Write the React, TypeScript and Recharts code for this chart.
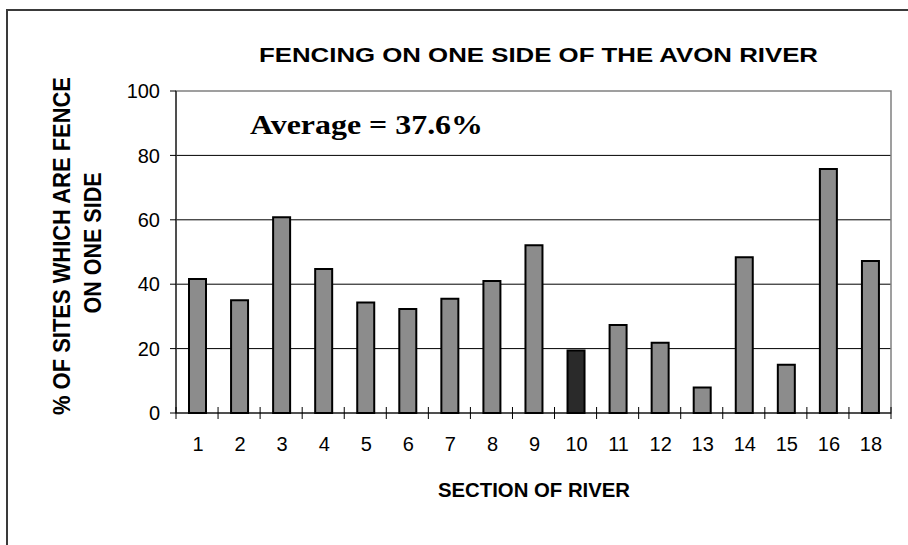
import { BarChart, Bar, XAxis, YAxis, CartesianGrid, ReferenceArea, Cell } from 'recharts'

const sections = ['1', '2', '3', '4', '5', '6', '7', '8', '9', '10', '11', '12', '13', '14', '15', '16', '18']
const fencedPct = [41.6, 35, 60.8, 44.7, 34.3, 32.3, 35.5, 41, 52.1, 19.4, 27.3, 21.8, 7.9, 48.4, 15, 75.8, 47.2]
const highlightSection = '10'
const yTicks = [0, 20, 40, 60, 80, 100]
const gridValues = [20, 40, 60, 80]

const data = sections.map((s, i) => ({ section: s, pct: fencedPct[i] }))

const fontSans = '"Liberation Sans", Arial, sans-serif'
const fontSerif = '"Liberation Serif", "Times New Roman", serif'

function SectionTick(props: any) {
  const { x, y, payload, width, visibleTicksCount, index } = props
  const step = width / visibleTicksCount
  const last = index === visibleTicksCount - 1
  return (
    <g>
      <line x1={x - step / 2} x2={x - step / 2} y1={y - 6} y2={y + 6} stroke="#000" />
      {last && <line x1={x + step / 2} x2={x + step / 2} y1={y - 6} y2={y + 6} stroke="#000" />}
      <text x={x + 1} y={y + 38} textAnchor="middle" fontSize={20} fill="#000" fontFamily={fontSans}>
        {payload.value}
      </text>
    </g>
  )
}

export default function App() {
  return (
    <div style={{ position: 'absolute', left: 0, top: 0, width: 908, height: 545, overflow: 'hidden', background: '#fff' }}>
      <div
        style={{
          position: 'absolute',
          left: 6,
          top: 9,
          width: 920,
          height: 560,
          border: '2px solid #3a3a3a',
          boxSizing: 'border-box',
        }}
      />
      <div style={{ position: 'absolute', left: 0, top: 0 }}>
        <BarChart
          width={908}
          height={545}
          data={data}
          margin={{ top: 91, right: 17, bottom: 92, left: 116 }}
          barCategoryGap={0}
        >
          <CartesianGrid horizontal vertical={false} horizontalValues={gridValues} stroke="#000" strokeWidth={1} />
          <ReferenceArea y1={0} y2={100} stroke="#808080" strokeWidth={1.5} fill="none" fillOpacity={0} />
          <XAxis
            dataKey="section"
            height={40}
            axisLine={{ stroke: '#000' }}
            tickLine={false}
            tickSize={0}
            tickMargin={0}
            interval={0}
            tick={<SectionTick />}
          />
          <YAxis
            width={60}
            domain={[0, 100]}
            ticks={yTicks}
            interval={0}
            axisLine={{ stroke: '#000' }}
            tickLine={{ stroke: '#000' }}
            tickSize={6}
            tickMargin={10}
            tick={{ fontSize: 20, fill: '#000', fontFamily: fontSans }}
          />
          <Bar dataKey="pct" barSize={17} stroke="#000" strokeWidth={2} isAnimationActive={false}>
            {data.map((d) => (
              <Cell key={d.section} fill={d.section === highlightSection ? '#2a2a2a' : '#8c8c8c'} />
            ))}
          </Bar>
        </BarChart>
      </div>
      <svg width={908} height={545} style={{ position: 'absolute', left: 0, top: 0, pointerEvents: 'none' }}>
        <text
          x={259}
          y={62}
          fontSize={21}
          fontWeight="bold"
          fontFamily={fontSans}
          textLength={559}
          lengthAdjust="spacingAndGlyphs"
        >
          FENCING ON ONE SIDE OF THE AVON RIVER
        </text>
        <text
          x={250}
          y={134}
          fontSize={28}
          fontWeight="bold"
          fontFamily={fontSerif}
          textLength={233}
          lengthAdjust="spacingAndGlyphs"
        >
          Average = 37.6%
        </text>
        <text
          x={438}
          y={497}
          fontSize={20}
          fontWeight="bold"
          fontFamily={fontSans}
          textLength={192}
          lengthAdjust="spacingAndGlyphs"
        >
          SECTION OF RIVER
        </text>
        <g transform="translate(70,246) rotate(-90)">
          <text x={0} y={0} textAnchor="middle" fontSize={24} fontWeight="bold" fontFamily={fontSans} textLength={338} lengthAdjust="spacingAndGlyphs">
            % OF SITES WHICH ARE FENCE
          </text>
        </g>
        <g transform="translate(101,243) rotate(-90)">
          <text x={0} y={0} textAnchor="middle" fontSize={24} fontWeight="bold" fontFamily={fontSans} textLength={141} lengthAdjust="spacingAndGlyphs">
            ON ONE SIDE
          </text>
        </g>
      </svg>
    </div>
  )
}
